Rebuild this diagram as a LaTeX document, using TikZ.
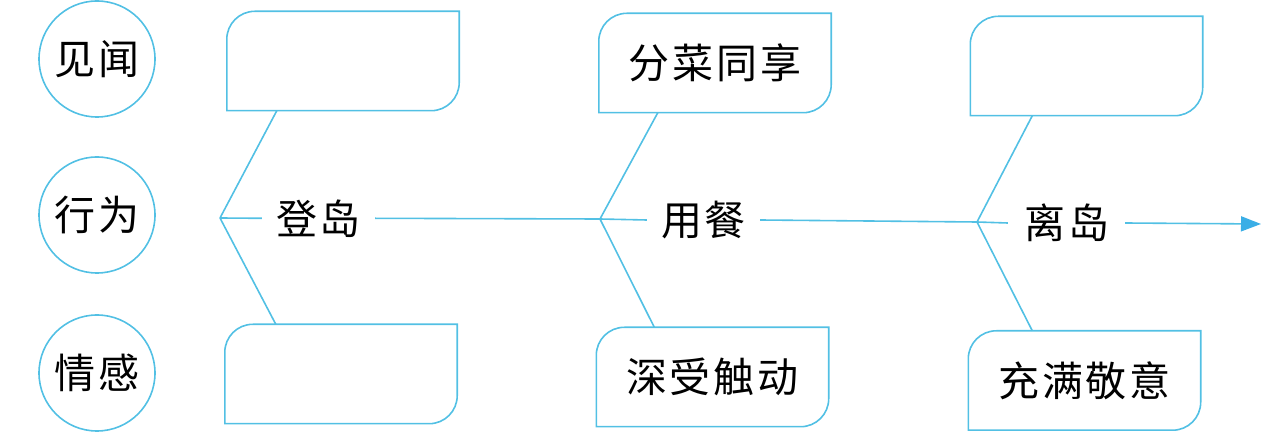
\documentclass[tikz,border=0pt]{standalone}
\usepackage{fontspec}
\setmainfont{Noto Sans CJK SC}
\usetikzlibrary{arrows.meta}
\definecolor{lineblue}{HTML}{52C0E4}
\definecolor{tipblue}{HTML}{3AAEE6}
\tikzset{
  blueline/.style={draw=lineblue,line width=1.6pt},
  circnode/.style={circle,blueline,minimum size=116pt,inner sep=0pt,font=\fontsize{41}{41}\selectfont},
  boxnode/.style={rectangle,draw=none,minimum width=232pt,minimum height=99pt,inner sep=0pt,font=\fontsize{41}{41}\selectfont},
  labnode/.style={rectangle,draw=none,minimum width=113pt,inner sep=0pt,font=\fontsize{41}{41}\selectfont},
}
\newcommand\rbox[3]{%
  \node[boxnode] (#1) at (#2) {#3};
  \draw[blueline] (#1.south west) -- ([yshift=-28pt]#1.north west)
    arc[start angle=180,end angle=90,radius=28pt] -- (#1.north east)
    -- ([yshift=28pt]#1.south east)
    arc[start angle=0,end angle=-90,radius=28pt] -- cycle;}
\newcommand\kk{\kern3pt}
\begin{document}
\begin{tikzpicture}[x=1pt,y=1pt]
\useasboundingbox (0,0) rectangle (1262,434);
% left circles
\node[circnode] (c1) at (97,375) {见\kk 闻};
\node[circnode] (c2) at (97,219) {行\kk 为};
\node[circnode] (c3) at (97,61) {情\kk 感};
% boxes
\rbox{b1}{343,373}{}
\rbox{b2}{715,371}{分\kk 菜\kk 同\kk 享}
\rbox{b3}{1086.5,368}{}
\rbox{b4}{341,60}{}
\rbox{b5}{712.5,57}{深\kk 受\kk 触\kk 动}
\rbox{b6}{1084.5,53.5}{充\kk 满\kk 敬\kk 意}
% spine
\coordinate (j1) at (220,216);
\coordinate (j2) at (600,215);
\coordinate (j3) at (977,212);
\coordinate (tip) at (1261,210);
\node[labnode] (l1) at (318.5,215.7) {登\kk 岛};
\node[labnode] (l2) at (703.5,214) {用\kk 餐};
\node[labnode,minimum width=117pt] (l3) at (1066.5,211) {离\kk 岛};
\draw[blueline] (j1) -- (l1.west);
\draw[blueline] (l1.east) -- (j2);
\draw[blueline] (j2) -- (l2.west);
\draw[blueline] (l2.east) -- (j3);
\draw[blueline] (j3) -- (l3.west);
\draw[blueline,-{Triangle[length=20pt,width=15pt,fill=tipblue,color=tipblue]}] (l3.east) -- (tip);
% branches
\draw[blueline] (j1) -- ([xshift=50pt]b1.south west);
\draw[blueline] (j1) -- ([xshift=51pt]b4.north west);
\draw[blueline] (j2) -- ([xshift=59pt]b2.south west);
\draw[blueline] (j2) -- ([xshift=58pt]b5.north west);
\draw[blueline] (j3) -- ([xshift=62pt]b3.south west);
\draw[blueline] (j3) -- ([xshift=64pt]b6.north west);
\end{tikzpicture}
\end{document}
